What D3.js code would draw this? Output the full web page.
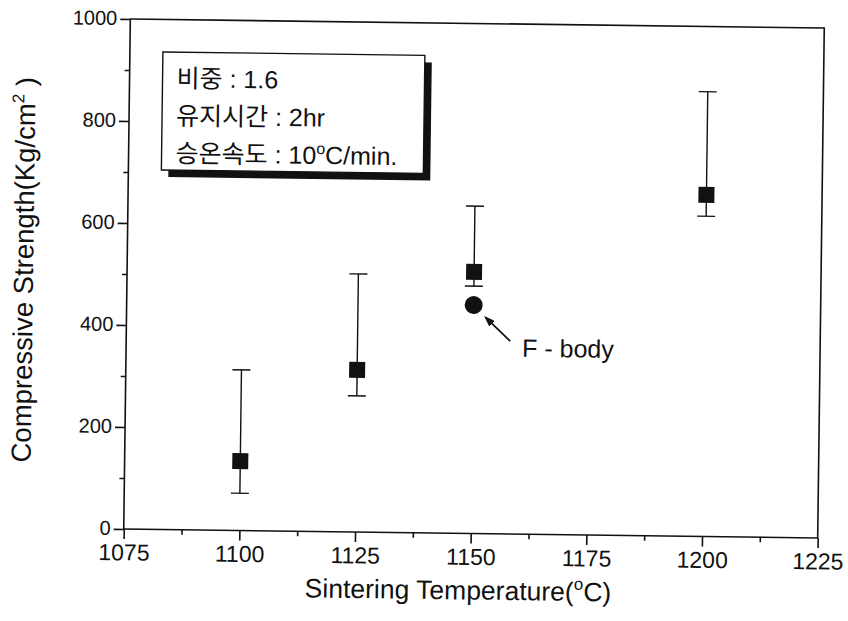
<!DOCTYPE html>
<meta charset="utf-8">
<style>
  body { margin: 0; padding: 0; background: white; }
  svg { background: white; }
  text { font-family: "Liberation Sans", Arial, "Noto Sans CJK KR", sans-serif; fill: #111; }
  .axis path, .axis line { stroke: #111; stroke-width: 1.6px; }
  .narrow { font-family: "Liberation Sans Narrow", "Arial Narrow", "Liberation Sans", sans-serif; }
</style>
<script src="https://cdn.jsdelivr.net/npm/d3@7"></script>
<svg id="vis" width="848" height="621"></svg>
<script>

// data
var temps     = [1100, 1125, 1150, 1200];
var strength  = [136, 318, 513, 670];
var errLow    = [73, 267, 485, 628];
var errHigh   = [315, 506, 642, 872];
// F-body sample
var fbodyTemp = [1150];
var fbodyVal  = [448];

var xTicks = [1075, 1100, 1125, 1150, 1175, 1200, 1225];
var yTicks = [0, 200, 400, 600, 800, 1000];
var boxLines = [["비중 : 1.6"], ["유지시간 : 2hr"], ["승온속도 : 10", "o", "C/min."]];

var svg = d3.select("#vis");
var margin = {left: 127, right: 27, top: 23.5, bottom: 87.5};
var width = 848 - margin.left - margin.right,
    height = 621 - margin.top - margin.bottom;

// the scan is a little tilted
var root = svg.append("g").attr("transform", "rotate(0.74, 474, 278.5)");
var g = root.append("g").attr("transform", "translate(" + margin.left + "," + margin.top + ")");

var x = d3.scaleLinear().domain([1075, 1225]).range([0, width]);
var y = d3.scaleLinear().domain([0, 1000]).range([height, 0]);

// frame
g.append("rect").attr("width", width).attr("height", height)
  .attr("fill", "none").attr("stroke", "#111").attr("stroke-width", 1.6);

// minor ticks
g.append("g").attr("class", "axis")
  .attr("transform", "translate(0," + height + ")")
  .call(d3.axisBottom(x).tickValues(d3.range(1087.5, 1225, 25)).tickSize(5).tickFormat(""))
  .select(".domain").remove();
g.append("g").attr("class", "axis")
  .call(d3.axisLeft(y).tickValues(d3.range(100, 1000, 200)).tickSize(5).tickFormat(""))
  .select(".domain").remove();

// major ticks
var xAxis = g.append("g").attr("class", "axis")
  .attr("transform", "translate(0," + height + ")")
  .call(d3.axisBottom(x).tickValues(xTicks).tickSize(10).tickPadding(5).tickFormat(d3.format("d")));
xAxis.select(".domain").remove();
xAxis.selectAll("text").attr("class", "narrow").attr("font-size", 23);

var yAxis = g.append("g").attr("class", "axis")
  .call(d3.axisLeft(y).tickValues(yTicks).tickSize(10).tickPadding(3).tickFormat(d3.format("d")));
yAxis.select(".domain").remove();
yAxis.selectAll("text").attr("font-size", 20).attr("dy", "0.28em");

// axis titles
var xt = g.append("text").attr("x", width / 2 - 12).attr("y", height + 66)
  .attr("text-anchor", "middle").attr("font-size", 26.5);
xt.append("tspan").text("Sintering Temperature(");
xt.append("tspan").attr("dy", -11).attr("font-size", 17).text("o");
xt.append("tspan").attr("dy", 11).text("C)");

var yt = g.append("text")
  .attr("transform", "translate(" + (-94) + "," + (height / 2 - 3) + ") rotate(-90)")
  .attr("text-anchor", "middle").attr("font-size", 27.5);
yt.append("tspan").text("Compressive Strength(Kg/cm");
yt.append("tspan").attr("dy", -11).attr("font-size", 17).text("2");
yt.append("tspan").attr("dy", 11).text(" )");

// error bars
var cap = 9;
var bars = g.selectAll(".err").data(temps).enter().append("g").attr("class", "err")
  .attr("stroke", "#111").attr("stroke-width", 1.4);
bars.append("line")
  .attr("x1", d => x(d)).attr("x2", d => x(d))
  .attr("y1", (d, i) => y(errLow[i])).attr("y2", (d, i) => y(errHigh[i]));
bars.append("line")
  .attr("x1", d => x(d) - cap).attr("x2", d => x(d) + cap)
  .attr("y1", (d, i) => y(errHigh[i])).attr("y2", (d, i) => y(errHigh[i]));
bars.append("line")
  .attr("x1", d => x(d) - cap).attr("x2", d => x(d) + cap)
  .attr("y1", (d, i) => y(errLow[i])).attr("y2", (d, i) => y(errLow[i]));

// squares
var s = 16;
g.selectAll(".pt").data(temps).enter().append("rect")
  .attr("x", d => x(d) - s / 2)
  .attr("y", (d, i) => y(strength[i]) - s / 2)
  .attr("width", s).attr("height", s).attr("fill", "#111");

// F-body circle
g.selectAll(".fb").data(fbodyTemp).enter().append("circle")
  .attr("cx", d => x(d)).attr("cy", (d, i) => y(fbodyVal[i])).attr("r", 9).attr("fill", "#111");

// arrow + label
svg.append("defs").append("marker").attr("id", "ah")
  .attr("markerWidth", 11).attr("markerHeight", 8).attr("refX", 9).attr("refY", 4)
  .attr("orient", "auto").attr("markerUnits", "userSpaceOnUse")
  .append("path").attr("d", "M0,0L11,4L0,8Z").attr("fill", "#111");
g.append("line")
  .attr("x1", x(1158)).attr("y1", y(378))
  .attr("x2", x(1152.6)).attr("y2", y(424))
  .attr("stroke", "#111").attr("stroke-width", 1.8).attr("marker-end", "url(#ah)");
g.append("text").attr("x", x(1160.6)).attr("y", y(348)).attr("font-size", 25).text("F - body");

// info box with shadow
var bx = 33, by = 32.5, bw = 262, bh = 118;
g.append("rect").attr("x", bx + 7).attr("y", by + 7).attr("width", bw).attr("height", bh).attr("fill", "#111");
g.append("rect").attr("x", bx).attr("y", by).attr("width", bw).attr("height", bh)
  .attr("fill", "white").attr("stroke", "#111").attr("stroke-width", 1.4);
boxLines.forEach(function(l, i) {
  var t = g.append("text").attr("x", bx + 14).attr("y", by + 35 + i * 37.5).attr("font-size", 25);
  t.append("tspan").text(l[0]);
  if (l.length > 2) {
    t.append("tspan").attr("dy", -10).attr("font-size", 16).text(l[1]);
    t.append("tspan").attr("dy", 10).text(l[2]);
  }
});

</script>
